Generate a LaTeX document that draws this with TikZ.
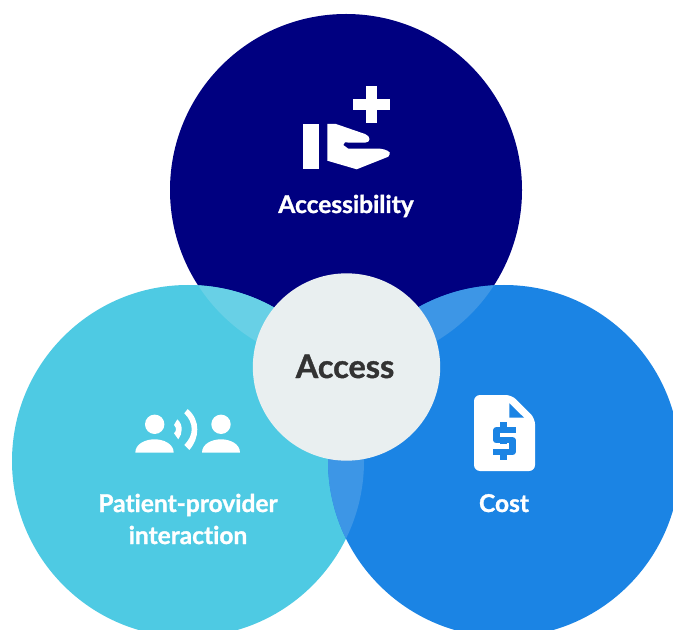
\documentclass[tikz,border=0pt]{standalone}
\usepackage{fontspec}
\setmainfont{Lato}[RawFeature={-liga},BoldFeatures={FakeBold=1.2}]
\definecolor{navyc}{HTML}{000080}
\definecolor{cyanc}{HTML}{4ECAE3}
\definecolor{bluec}{HTML}{1B84E4}
\definecolor{centerc}{HTML}{E9EFF0}
\definecolor{ovcyan}{HTML}{68D0E6}
\definecolor{ovblue}{HTML}{3D96E6}
\definecolor{darktext}{HTML}{333333}
\tikzset{
  bubble/.style={circle,inner sep=0pt,minimum size=264pt},
  hub/.style={circle,inner sep=0pt,fill=centerc,minimum size=140.5pt},
  whitelabel/.style={text=white,font=\fontsize{18.4}{18}\selectfont\bfseries,inner sep=0pt,anchor=base},
  hublabel/.style={text=darktext,font=\fontsize{24.3}{24}\selectfont\bfseries,inner sep=0pt,anchor=base},
  iconw/.style={fill=white,draw=none},
}
\begin{document}
\begin{tikzpicture}[x=0.75pt,y=-0.75pt]
\useasboundingbox (0,0) rectangle (673,630);
\clip (0,0) rectangle (673,630);
\fill[white] (0,0) rectangle (673,630);
\coordinate (ct) at (346,190);
\coordinate (cl) at (188,461);
\coordinate (cr) at (504,461);
\node[bubble,fill=navyc] (top) at (ct) {};
\node[bubble,fill=cyanc] (left) at (cl) {};
\node[bubble,fill=bluec] (right) at (cr) {};
\begin{scope}
  \clip (ct) circle (176);
  \fill[ovcyan] (cl) circle (176);
\end{scope}
\begin{scope}
  \clip (ct) circle (176);
  \fill[ovblue] (cr) circle (176);
\end{scope}
\begin{scope}
  \clip (cl) circle (176);
  \fill[ovblue] (cr) circle (176);
\end{scope}
\node[hub] (access) at (346.5,367) {};
\node[hublabel] (accesslabel) at (345,378) {Access};
\node[whitelabel] (acclabel) at (346,213) {Accessibility};
\node[whitelabel] (pplabel) at (188,512) {Patient-provider};
\node[whitelabel] (intlabel) at (188,544) {interaction};
\node[whitelabel] (costlabel) at (504,512) {Cost};
% hand + plus icon
\fill[iconw] (302.7,124) rectangle (319.3,169.3);
\fill[iconw] (353,99) rectangle (390,110);
\fill[iconw] (365.7,86) rectangle (377,122.7);
\fill[iconw] (327.3,124) -- (336,124) -- (365,134)
  .. controls (371,136) and (371,142.7) .. (365,142.7)
  -- (350,142.7) -- (345,142.3) -- (343.3,145) -- (348.3,148.7) -- (380,148.7)
  .. controls (385,149) and (392,152) .. (389.5,154.5)
  .. controls (389,156) and (388.5,156.5) .. (388.3,156.7)
  -- (356.7,169.3) -- (327.3,160.7) -- cycle;
% people + waves icon
\fill[iconw] (154.7,424.3) circle (9.7);
\fill[iconw] (135.3,452.7) .. controls (135.3,444) and (145,439.3) .. (154.5,439.3)
  .. controls (164,439.3) and (173.7,444) .. (173.7,452.7) -- cycle;
\fill[iconw] (221,424.3) circle (9.7);
\fill[iconw] (202,452.7) .. controls (202,444) and (211.5,439.3) .. (221,439.3)
  .. controls (230.5,439.3) and (240,444) .. (240,452.7) -- cycle;
\fill[iconw] (177.3,419.3) .. controls (180.5,422) and (181.7,426) .. (181.7,429.3)
  .. controls (181.7,433) and (180.5,436.5) .. (178.3,439.3) -- (174,433.3)
  .. controls (175.5,432) and (176,430.5) .. (176,429.3)
  .. controls (176,428) and (175.5,426.5) .. (174,425) -- cycle;
\fill[iconw] (187.7,409) .. controls (194.5,415) and (197.3,422) .. (197.3,429.3)
  .. controls (197.3,437) and (194.5,444) .. (189.3,450) -- (184.3,445)
  .. controls (189,440) and (191.7,435) .. (191.7,429.3)
  .. controls (191.7,423) and (189,418) .. (184.3,413.3) -- cycle;
% cost icon
\fill[iconw,rounded corners=4.5pt] (474,395) -- (511.7,395) -- (535,418.3) -- (535,471) -- (474,471) -- cycle;
\fill[bluec] (509.3,403.3) -- (524,417.7) -- (509.3,417.7) -- cycle;
\fill[bluec] (500,421.7) rectangle (507.3,460);
\draw[bluec,line width=4.7pt,line join=round] (515.7,430) -- (496.5,430) -- (496.5,440.3) -- (512.5,440.3) -- (512.5,452) -- (493.3,452);
\fill[white] (500,433.3) rectangle (507.3,437);
\fill[white] (500,443.7) rectangle (507.3,448.7);
\end{tikzpicture}
\end{document}
